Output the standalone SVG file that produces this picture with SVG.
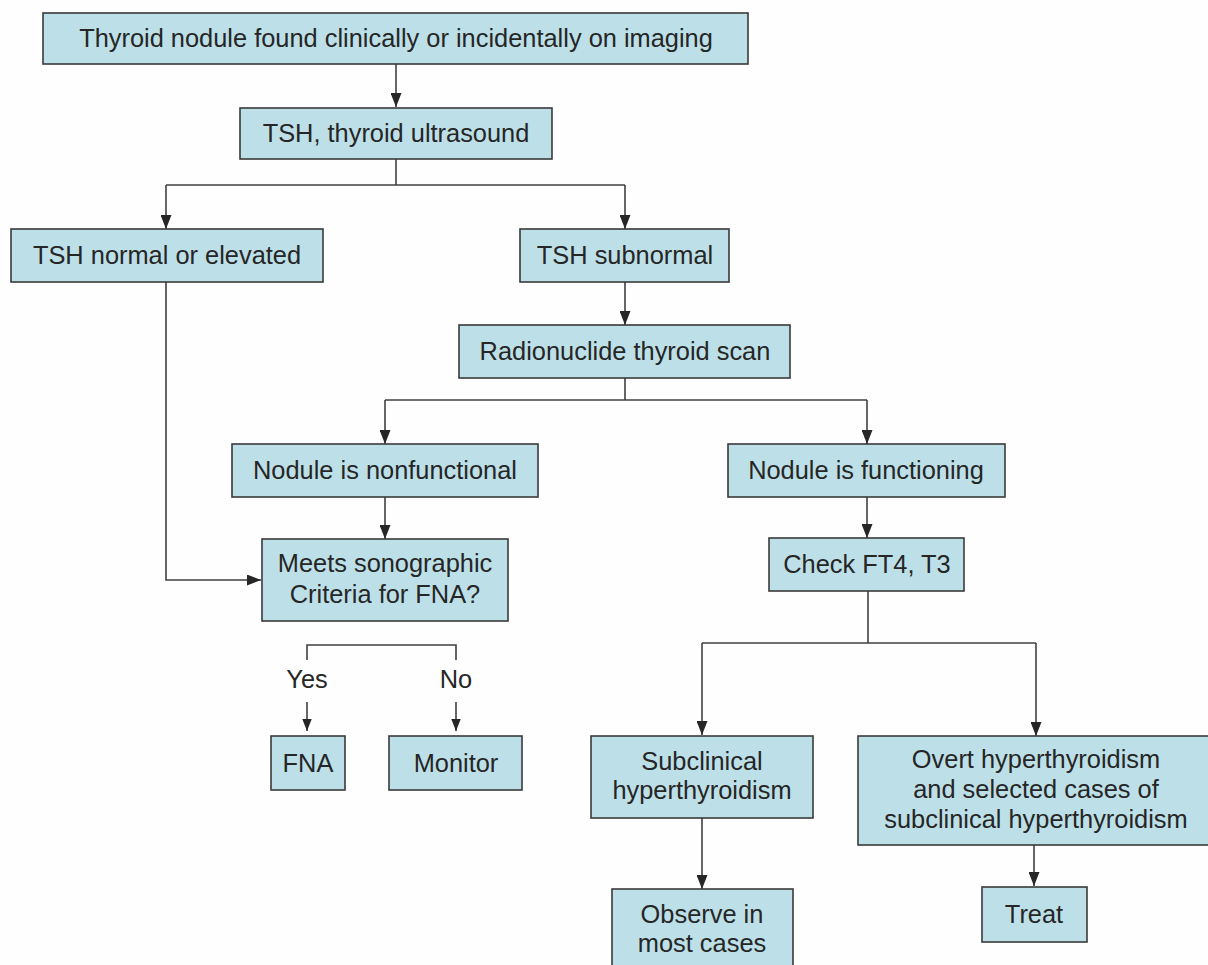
<svg xmlns="http://www.w3.org/2000/svg" width="1208" height="965" viewBox="0 0 1208 965">
<style>
.box{fill:#bde0e8;stroke:#3a3a3a;stroke-width:1.6}
.t{font-family:"Liberation Sans",Arial,sans-serif;font-size:25.4px;fill:#262626;text-anchor:middle}
.c{fill:none;stroke:#404040;stroke-width:1.6}
</style>
<defs>
<marker id="ah" viewBox="0 0 14 11" refX="14" refY="5.5" markerWidth="14" markerHeight="11" markerUnits="userSpaceOnUse" orient="auto">
<path d="M0,0 L14,5.5 L0,11 z" fill="#262626"/>
</marker>
<marker id="ahs" viewBox="0 0 14 11" refX="14" refY="5.5" markerWidth="12" markerHeight="9.5" markerUnits="userSpaceOnUse" orient="auto">
<path d="M0,0 L14,5.5 L0,11 z" fill="#262626"/>
</marker>
</defs>
<rect width="1208" height="965" fill="#fefefe"/>
<g id="connectors">
<path class="c" d="M396,64 V107" marker-end="url(#ah)"/>
<path class="c" d="M396,159 V185"/>
<path class="c" d="M166,185 H625"/>
<path class="c" d="M166,185 V229" marker-end="url(#ah)"/>
<path class="c" d="M625,185 V229" marker-end="url(#ah)"/>
<path class="c" d="M166,282 V580 H261" marker-end="url(#ah)"/>
<path class="c" d="M625,282 V325" marker-end="url(#ah)"/>
<path class="c" d="M625,378 V400"/>
<path class="c" d="M385,400 H867"/>
<path class="c" d="M385,400 V444" marker-end="url(#ah)"/>
<path class="c" d="M867,400 V444" marker-end="url(#ah)"/>
<path class="c" d="M385,497 V539" marker-end="url(#ah)"/>
<path class="c" d="M867,497 V538" marker-end="url(#ah)"/>
<path class="c" d="M868,591 V643"/>
<path class="c" d="M702,643 H1036"/>
<path class="c" d="M702,643 V735" marker-end="url(#ah)"/>
<path class="c" d="M1036,643 V736" marker-end="url(#ah)"/>
<path class="c" d="M307,660 V645 H456 V660"/>
<path class="c" d="M307,702 V731" marker-end="url(#ahs)"/>
<path class="c" d="M456,702 V731" marker-end="url(#ahs)"/>
<path class="c" d="M702,818 V889" marker-end="url(#ah)"/>
<path class="c" d="M1034,845 V886" marker-end="url(#ah)"/>
</g>
<g id="n1"><rect class="box" x="43" y="13" width="705" height="51"/><text class="t" x="396" y="47">Thyroid nodule found clinically or incidentally on imaging</text></g>
<g id="n2"><rect class="box" x="240" y="108" width="312" height="51"/><text class="t" x="396" y="142">TSH, thyroid ultrasound</text></g>
<g id="n3"><rect class="box" x="11" y="229" width="312" height="53"/><text class="t" x="167" y="264">TSH normal or elevated</text></g>
<g id="n4"><rect class="box" x="520" y="229" width="209" height="53"/><text class="t" x="625" y="264">TSH subnormal</text></g>
<g id="n5"><rect class="box" x="459" y="325" width="331" height="53"/><text class="t" x="625" y="360">Radionuclide thyroid scan</text></g>
<g id="n6"><rect class="box" x="232" y="444" width="306" height="53"/><text class="t" x="385" y="479">Nodule is nonfunctional</text></g>
<g id="n7"><rect class="box" x="728" y="444" width="277" height="53"/><text class="t" x="866" y="479">Nodule is functioning</text></g>
<g id="n8"><rect class="box" x="262" y="539" width="246" height="82"/><text class="t" x="385" y="572">Meets sonographic</text><text class="t" x="385" y="603">Criteria for FNA?</text></g>
<g id="n9"><rect class="box" x="769" y="538" width="195" height="53"/><text class="t" x="867" y="573">Check FT4, T3</text></g>
<g id="yes"><text class="t" x="307" y="688">Yes</text></g>
<g id="no"><text class="t" x="456" y="688">No</text></g>
<g id="n10"><rect class="box" x="271" y="736" width="74" height="54"/><text class="t" x="308" y="772">FNA</text></g>
<g id="n11"><rect class="box" x="389" y="736" width="133" height="54"/><text class="t" x="456" y="772">Monitor</text></g>
<g id="n12"><rect class="box" x="591" y="736" width="222" height="82"/><text class="t" x="702" y="770">Subclinical</text><text class="t" x="702" y="799">hyperthyroidism</text></g>
<g id="n13"><rect class="box" x="858" y="736" width="360" height="109"/><text class="t" x="1036" y="768">Overt hyperthyroidism</text><text class="t" x="1036" y="798">and selected cases of</text><text class="t" x="1036" y="828">subclinical hyperthyroidism</text></g>
<g id="n14"><rect class="box" x="612" y="889" width="181" height="85"/><text class="t" x="702" y="923">Observe in</text><text class="t" x="702" y="952">most cases</text></g>
<g id="n15"><rect class="box" x="982" y="887" width="105" height="55"/><text class="t" x="1034" y="923">Treat</text></g>
</svg>
